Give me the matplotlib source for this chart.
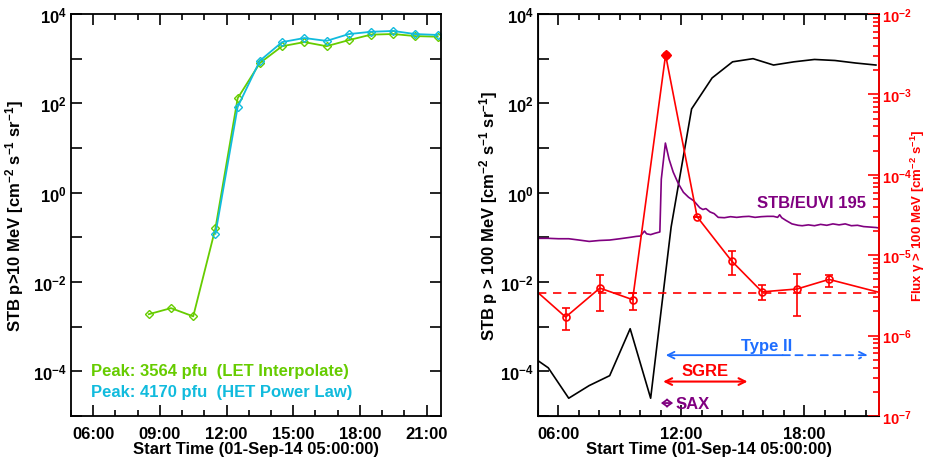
import numpy as np
import matplotlib
matplotlib.use("Agg")
import matplotlib.pyplot as plt
from matplotlib.ticker import FixedLocator, FuncFormatter, NullLocator, LogLocator

plt.rcParams['font.family'] = ['Liberation Sans', 'DejaVu Sans']
plt.rcParams['font.weight'] = 'bold'
plt.rcParams['font.size'] = 12
plt.rcParams['mathtext.fontset'] = 'custom'
plt.rcParams['mathtext.rm'] = 'Liberation Sans:bold'
plt.rcParams['mathtext.it'] = 'Liberation Sans:bold'
plt.rcParams['mathtext.bf'] = 'Liberation Sans:bold'
plt.rcParams['mathtext.default'] = 'regular'

# ---- left panel: STB p>10 MeV (hours after 00:00, 01-Sep-14)
t_let = [8.5, 9.5, 10.5, 11.5, 12.5, 13.5, 14.5, 15.5, 16.5, 17.5, 18.5, 19.5, 20.5, 21.5]
flux_let = [1.9e-3, 2.6e-3, 1.7e-3, 0.16, 130, 800, 1900, 2350, 1900, 2600, 3450, 3564, 3200, 3100]
t_het = [11.5, 12.5, 13.5, 14.5, 15.5, 16.5, 17.5, 18.5, 19.5, 20.5, 21.5]
flux_het = [0.12, 83, 900, 2350, 2900, 2500, 3550, 4000, 4170, 3550, 3400]

# ---- right panel: STB p>100 MeV
t_p100 = [4.5, 5.5, 6.5, 7.5, 8.5, 9.5, 10.5, 11.5, 12.5, 13.5, 14.5, 15.5, 16.5, 17.5, 18.5, 19.5, 20.5, 21.5]
flux_p100 = [2.5e-4, 1.2e-4, 2.5e-5, 4.8e-5, 8e-5, 9e-4, 2.5e-5, 0.17, 75, 370, 850, 1000, 720, 850, 960, 910, 800, 720]

# STB/EUVI 195 (arbitrary, on left axis scale)
t_euvi = [5.0, 5.5, 6.0, 6.5, 7.0, 7.5, 8.0, 8.5, 9.0, 9.5, 9.8, 10.0, 10.2, 10.3, 10.5, 10.7,
          10.95, 11.02, 11.22, 11.4, 11.6, 11.85, 12.1, 12.35, 12.6, 12.9, 13.05, 13.2, 13.4, 13.6,
          13.8, 14.1, 14.4, 14.7, 15.0, 15.3, 15.6, 15.9, 16.2, 16.5, 16.7, 16.8, 16.9, 17.1, 17.4,
          17.7, 17.9, 18.2, 18.5, 18.8, 19.1, 19.4, 19.7, 20.0, 20.3, 20.6, 20.9, 21.2, 21.5, 21.65]
euvi = [0.095, 0.095, 0.093, 0.093, 0.087, 0.081, 0.085, 0.087, 0.093, 0.100, 0.105, 0.107, 0.138, 0.120,
        0.115, 0.123, 0.132, 2.0, 12.9, 5.6, 2.9, 1.6, 1.02, 0.79, 0.66, 0.46, 0.42, 0.44, 0.37, 0.34,
        0.28, 0.275, 0.29, 0.28, 0.29, 0.295, 0.28, 0.29, 0.295, 0.295, 0.28, 0.32, 0.275, 0.24, 0.20,
        0.186, 0.182, 0.19, 0.182, 0.195, 0.186, 0.20, 0.19, 0.20, 0.182, 0.186, 0.174, 0.17, 0.166, 0.162]

# Fermi-LAT gamma > 100 MeV
t_gam = [4.75, 6.35, 8.02, 9.62, 11.23, 12.77, 14.45, 15.94, 17.65, 19.21, 22.8]
flux_gam = [3.9e-6, 1.7e-6, 3.9e-6, 2.8e-6, 3.1e-3, 3.0e-5, 8.5e-6, 3.5e-6, 3.8e-6, 5.0e-6, 2.9e-6]
gam_lo = [3.9e-6, 1.17e-6, 2.0e-6, 2.1e-6, 3.1e-3, 3.0e-5, 5.6e-6, 2.75e-6, 1.74e-6, 4.0e-6, 2.9e-6]
gam_hi = [3.9e-6, 2.2e-6, 5.7e-6, 3.4e-6, 3.1e-3, 3.0e-5, 1.12e-5, 4.2e-6, 5.9e-6, 5.7e-6, 2.9e-6]
gam_bg = 3.4e-6

GREEN = '#66CC00'
CYAN = '#11BBDD'
PURPLE = '#800080'
RED = '#FF0000'
BLUE = '#1E6EFF'

xlim = (5.0, 21.65)


def hhmm(x, pos):
    return f"{int(round(x)):02d}:00"


def logfmt(step):
    def f(v, pos):
        k = int(round(np.log10(v)))
        if k % step:
            return ''
        return f"$10^{{{k}}}$"
    return f


fig = plt.figure(figsize=(9.26, 4.6), dpi=100)
ax1 = fig.add_axes([71 / 926, 43 / 460, 370 / 926, 402 / 460])
ax2 = fig.add_axes([538 / 926, 43 / 460, 341 / 926, 402 / 460])

# ---------- left
ax1.plot(t_let, flux_let, color=GREEN, lw=1.3, marker='D', ms=4, mfc='none', mew=1.0)
ax1.plot(t_het, flux_het, color=CYAN, lw=1.3, marker='D', ms=4, mfc='none', mew=1.0)
ax1.set_yscale('log')
ax1.set_ylim(1e-5, 1e4)
ax1.set_xlim(*xlim)
ax1.yaxis.set_major_locator(FixedLocator([10.0 ** k for k in range(-5, 5)]))
ax1.yaxis.set_minor_locator(NullLocator())
ax1.yaxis.set_major_formatter(FuncFormatter(logfmt(2)))
ax1.xaxis.set_major_locator(FixedLocator([6, 9, 12, 15, 18, 21]))
ax1.xaxis.set_minor_locator(FixedLocator(range(5, 22)))
ax1.xaxis.set_major_formatter(FuncFormatter(hhmm))
ax1.set_xlabel('Start Time (01-Sep-14 05:00:00)', fontweight='bold')
ax1.set_ylabel('STB p>10 MeV [cm$^{-2}$ s$^{-1}$ sr$^{-1}$]', fontweight='bold')
ax1.yaxis.set_label_coords(-0.122, 0.5)
ax1.xaxis.set_label_coords(0.5, -0.062)
ax1.tick_params(which='both', direction='in', top=True, right=True, width=1.2)
ax1.tick_params(which='major', length=8)
ax1.tick_params(which='minor', length=4)
ax1.tick_params(axis='x', pad=7)
ax1.tick_params(axis='y', pad=3)
for s in ax1.spines.values():
    s.set_linewidth(1.3)
ax1.text(0.054, 0.112, 'Peak: 3564 pfu  (LET Interpolate)', color=GREEN, transform=ax1.transAxes,
         va='center', fontweight='bold')
ax1.text(0.054, 0.062, 'Peak: 4170 pfu  (HET Power Law)', color=CYAN, transform=ax1.transAxes,
         va='center', fontweight='bold')

# ---------- right
ax2.plot(t_p100, flux_p100, color='black', lw=1.2)
ax2.plot(t_euvi, euvi, color=PURPLE, lw=1.2)
ax2.set_yscale('log')
ax2.set_ylim(1e-5, 1e4)
ax2.set_xlim(*xlim)
ax2.yaxis.set_major_locator(FixedLocator([10.0 ** k for k in range(-5, 5)]))
ax2.yaxis.set_minor_locator(NullLocator())
ax2.yaxis.set_major_formatter(FuncFormatter(logfmt(2)))
ax2.xaxis.set_major_locator(FixedLocator([6, 12, 18]))
ax2.xaxis.set_minor_locator(FixedLocator(range(5, 22)))
ax2.xaxis.set_major_formatter(FuncFormatter(hhmm))
ax2.set_xlabel('Start Time (01-Sep-14 05:00:00)', fontweight='bold')
ax2.set_ylabel('STB p > 100 MeV [cm$^{-2}$ s$^{-1}$ sr$^{-1}$]', fontweight='bold')
ax2.yaxis.set_label_coords(-0.111, 0.5)
ax2.xaxis.set_label_coords(0.5, -0.062)
ax2.tick_params(which='both', direction='in', top=True, right=False, width=1.2)
ax2.tick_params(which='major', length=8)
ax2.tick_params(which='minor', length=4)
ax2.tick_params(axis='x', pad=7)
ax2.tick_params(axis='y', pad=3)
for s in ax2.spines.values():
    s.set_linewidth(1.3)

ax2.text(18.37, 0.59, 'STB/EUVI 195', color=PURPLE, ha='center', va='center', fontweight='bold')

# event bars
ax2.annotate('', xy=(11.24, 2.3e-4), xytext=(16.95, 2.3e-4),
             arrowprops=dict(arrowstyle='->', color=BLUE, lw=1.3, shrinkA=0, shrinkB=0))
ax2.annotate('', xy=(21.1, 2.3e-4), xytext=(16.95, 2.3e-4),
             arrowprops=dict(arrowstyle='->', color=BLUE, lw=1.3, ls=(0, (4, 3)), shrinkA=0, shrinkB=0))
ax2.text(16.17, 3.8e-4, 'Type II', color=BLUE, ha='center', va='center', fontweight='bold')
ax2.annotate('', xy=(11.11, 5.9e-5), xytext=(15.23, 5.9e-5),
             arrowprops=dict(arrowstyle='<->', color=RED, lw=1.5, shrinkA=0, shrinkB=0))
ax2.text(13.17, 1.05e-4, 'SGRE', color=RED, ha='center', va='center', fontweight='bold')
ax2.annotate('', xy=(11.0, 1.95e-5), xytext=(11.6, 1.95e-5),
             arrowprops=dict(arrowstyle='<->,head_length=0.35,head_width=0.25', color=PURPLE, lw=1.3,
                             mutation_scale=10, shrinkA=0, shrinkB=0))
ax2.text(11.7, 1.95e-5, 'SAX', color=PURPLE, ha='left', va='center', fontweight='bold')

# gamma-ray flux on right axis
ax3 = ax2.twinx()
ax3.set_yscale('log')
ax3.set_ylim(1e-7, 1e-2)
ax3.set_xlim(*xlim)
f = np.array(flux_gam)
yerr = [f - np.array(gam_lo), np.array(gam_hi) - f]
ax3.errorbar(t_gam, flux_gam, yerr=yerr, color=RED, lw=1.2, marker='o', ms=5, mfc='none',
             mew=1.2, capsize=3, elinewidth=1.2, capthick=1.2)
ipk = int(np.argmax(flux_gam))
ax3.plot(t_gam[ipk], flux_gam[ipk], marker='D', ms=5, color=RED)
ax3.axhline(gam_bg, color=RED, lw=1.2, ls=(0, (5, 4)))
ax3.yaxis.set_major_locator(LogLocator(base=10, numticks=10))
ax3.yaxis.set_minor_locator(LogLocator(base=10, subs=np.arange(2, 10), numticks=10))
ax3.yaxis.set_major_formatter(FuncFormatter(logfmt(1)))
ax3.tick_params(axis='y', which='both', direction='in', colors=RED, width=1.2, pad=2, labelsize=10.5)
ax3.tick_params(axis='y', which='major', length=8)
ax3.tick_params(axis='y', which='minor', length=4)
ax3.spines['right'].set_color(RED)
ax3.spines['right'].set_linewidth(1.3)
fig.text(918 / 926, 1 - 216 / 460, 'Flux $\\gamma$ > 100 MeV [cm$^{-2}$ s$^{-1}$]', color=RED,
         fontweight='bold', fontsize=9.5, rotation=90, ha='center', va='center')

fig.savefig('out.png', dpi=100)
